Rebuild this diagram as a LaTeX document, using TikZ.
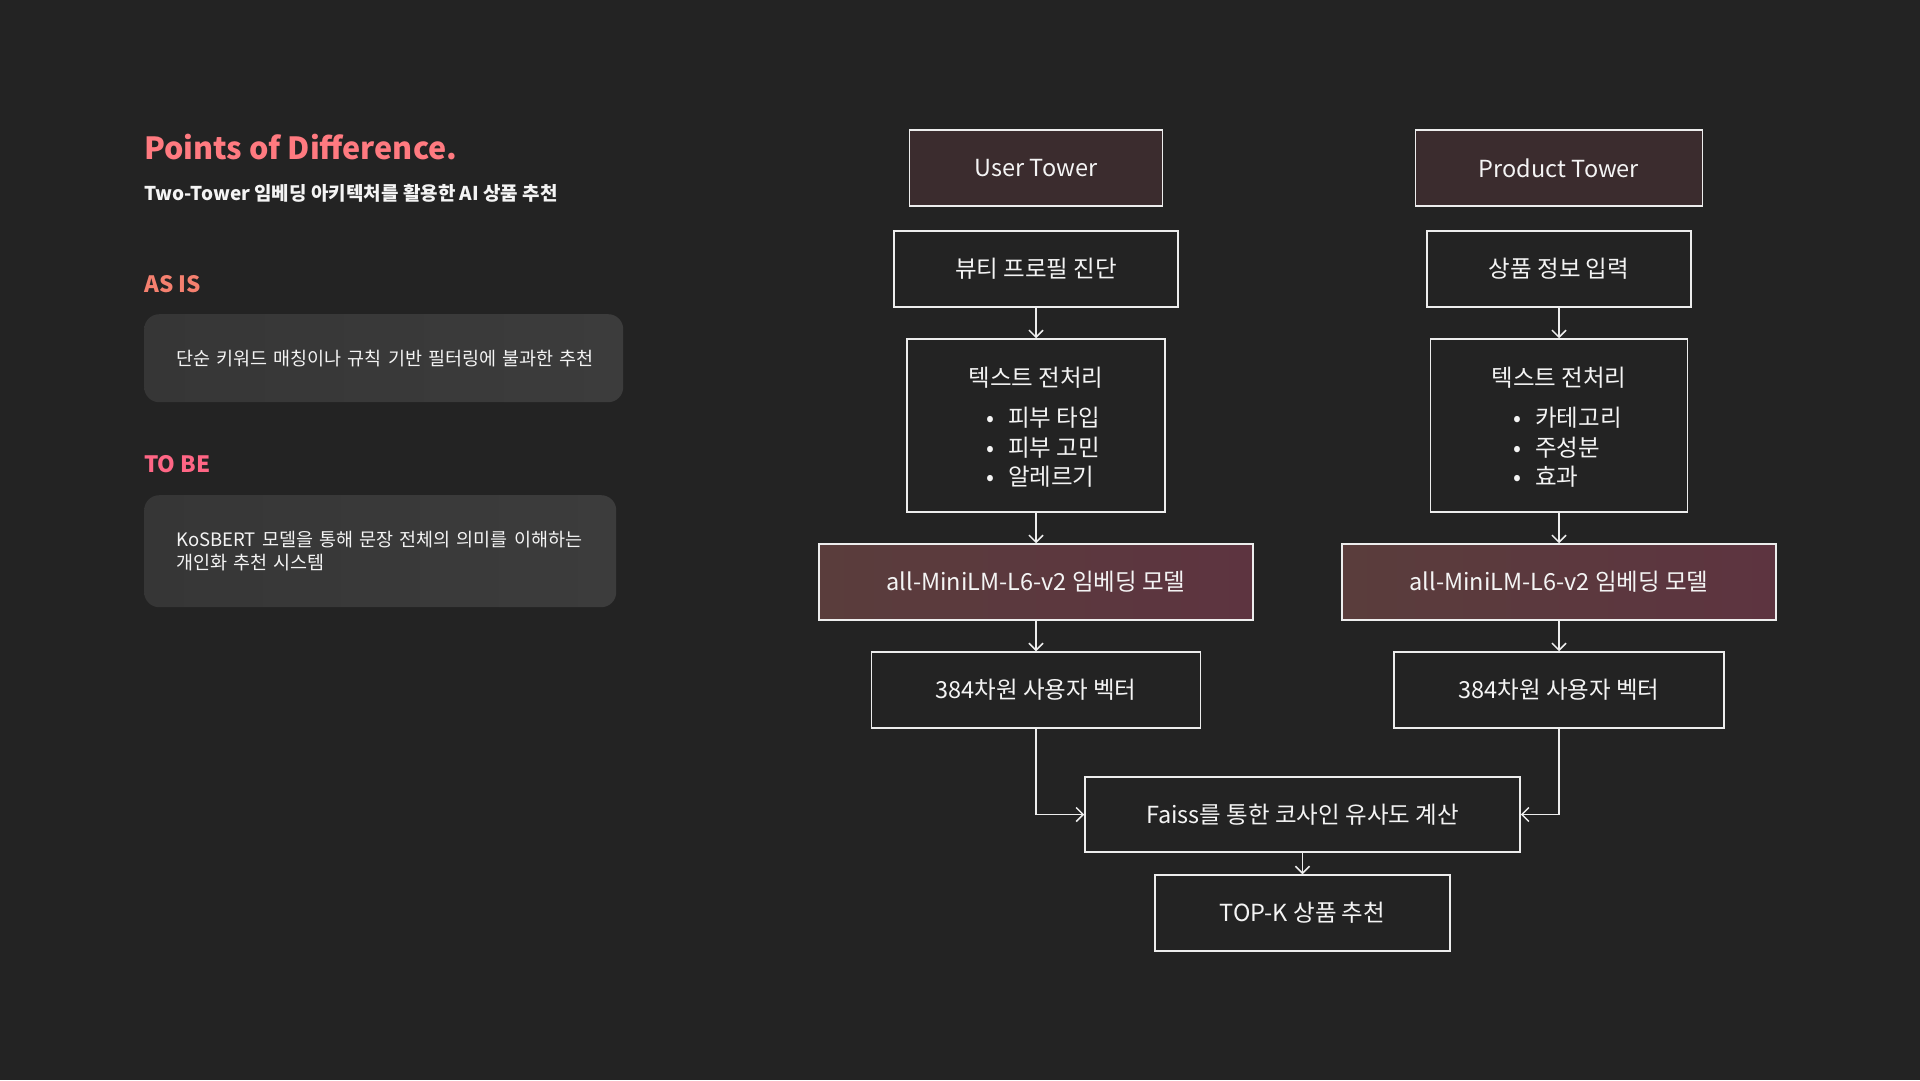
\documentclass[tikz,border=0pt]{standalone}
\usepackage{fontspec}
\setmainfont{Noto Sans CJK KR}
\usepackage{tikz}
\usetikzlibrary{arrows.meta}
\definecolor{bgcol}{HTML}{232323}
\definecolor{linecol}{HTML}{EDEDED}
\definecolor{textcol}{HTML}{F4F4F4}
\definecolor{towercol}{HTML}{3B2C2E}
\definecolor{embL}{HTML}{5A3D3C}
\definecolor{embR}{HTML}{5D3440}
\definecolor{cardL}{HTML}{363636}
\definecolor{cardR}{HTML}{3C3C3C}
\definecolor{titlecol}{HTML}{FF7A80}
\definecolor{asiscol}{HTML}{F5806F}
\definecolor{tobecol}{HTML}{FF6685}

\begin{document}
\begin{tikzpicture}[x=1pt,y=-1pt,font=\fontsize{23.5}{29.5}\selectfont,
    flow node/.style={draw=linecol, line width=1.5pt, text=textcol, inner sep=0pt, minimum height=76pt},
    tower node/.style={flow node, fill=towercol},
    embed node/.style={flow node, left color=embL, right color=embR},
    card node/.style={rounded corners=15pt, left color=cardL, right color=cardR, text=textcol, inner xsep=32pt, align=left, anchor=north west, font=\fontsize{18.5}{23}\selectfont},
    side text/.style={anchor=west, inner sep=0pt},
    link/.style={->, draw=linecol, line width=1.5pt},
    >={Straight Barb[length=7pt,width=14pt]}]
			\fill[bgcol] (0,0) rectangle (1920,1080);
			\useasboundingbox (0,0) rectangle (1920,1080);
			
			% Left column
			\node[side text, text=titlecol, font=\fontsize{30.5}{36}\selectfont\bfseries] (title) at (144,147) {Points of Difference.};
			\node[side text, text=textcol, font=\fontsize{19}{22}\selectfont\bfseries] (sub) at (144,193) {Two-Tower 임베딩 아키텍처를 활용한 AI 상품 추천};
			\node[side text, text=asiscol, font=\fontsize{22.5}{26}\selectfont\bfseries] (asis) at (144,284) {AS IS};
			\node[card node, text width=415pt, minimum height=88pt] (asisbox) at (144,314) {\mbox{단순 키워드 매칭이나 규칙 기반 필터링에 불과한 추천}};
			\node[side text, text=tobecol, font=\fontsize{22.5}{26}\selectfont\bfseries] (tobe) at (144,464) {TO BE};
			\node[card node, text width=408pt, minimum height=112pt] (tobebox) at (144,495) {KoSBERT 모델을 통해 문장 전체의 의미를 이해하는\\개인화 추천 시스템};
			
			% Nodes
			\node[tower node, minimum width=253pt] (1) at (1036,168) {User Tower};
			\node[flow node, minimum width=284pt] (2) at (1036,269) {뷰티 프로필 진단};
			\node[flow node, minimum width=258pt, minimum height=173pt, align=center] (3) at (1036,425.5)
			{\rule{0pt}{30pt}텍스트 전처리\\[10.5pt]\hspace{14pt}\begin{tabular}[t]{@{}l@{}}•\hspace{14pt}피부 타입\\ •\hspace{14pt}피부 고민\\ •\hspace{14pt}알레르기\end{tabular}};
			\node[embed node, minimum width=434pt] (4) at (1036,582) {all-MiniLM-L6-v2 임베딩 모델};
			\node[flow node, minimum width=329pt] (5) at (1036,690) {384차원 사용자 벡터};
			
			\node[tower node, minimum width=287pt] (6) at (1559,168) {Product Tower};
			\node[flow node, minimum width=264pt] (7) at (1559,269) {상품 정보 입력};
			\node[flow node, minimum width=257pt, minimum height=173pt, align=center] (8) at (1559,425.5)
			{\rule{0pt}{30pt}텍스트 전처리\\[10.5pt]\hspace{17pt}\begin{tabular}[t]{@{}l@{}}•\hspace{14pt}카테고리\\ •\hspace{14pt}주성분\\ •\hspace{14pt}효과\end{tabular}};
			\node[embed node, minimum width=434pt] (9) at (1559,582) {all-MiniLM-L6-v2 임베딩 모델};
			\node[flow node, minimum width=330pt] (10) at (1559,690) {384차원 사용자 벡터};
			
			\node[flow node, minimum width=435pt, minimum height=75pt] (11) at (1302.5,814.5) {Faiss를 통한 코사인 유사도 계산};
			\node[flow node, minimum width=295pt] (12) at (1302.5,913) {TOP-K 상품 추천};
			
			\path[link]
			(2) edge (3)
			(3) edge (4)
			(4) edge (5)
			(7) edge (8)
			(8) edge (9)
			(9) edge (10)
			(11) edge (12);
			
			\draw[link] (5.south) |- (11.west);
			\draw[link] (10.south) |- (11.east);
			
		\end{tikzpicture}
\end{document}
